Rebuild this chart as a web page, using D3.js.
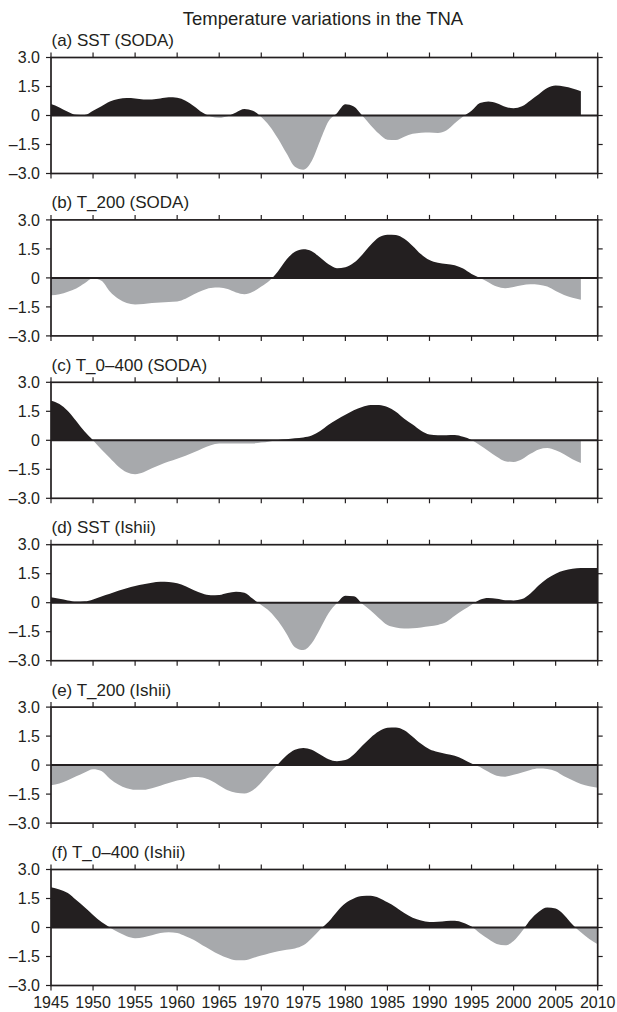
<!DOCTYPE html>
<html>
<head>
<meta charset="utf-8">
<script src="https://d3js.org/d3.v7.min.js"></script>
<style>
body {
  margin: 0;
  background: #fff;
}
svg text {
  font-family: "Liberation Sans", Arial, sans-serif;
  fill: #231f20;
}
.frame {
  fill: none;
  stroke: #231f20;
  stroke-width: 1.7;
}
.tick {
  stroke: #231f20;
  stroke-width: 1.2;
}
.zero {
  stroke: #231f20;
  stroke-width: 2;
}
</style>
</head>
<body>
<div id="plot"></div>
<script>

var chartTitle = "Temperature variations in the TNA";
var panelLabels = ["(a) SST (SODA)", "(b) T_200 (SODA)", "(c) T_0\u2013400 (SODA)",
                   "(d) SST (Ishii)", "(e) T_200 (Ishii)", "(f) T_0\u2013400 (Ishii)"];

var yTicks = [3, 1.5, 0, -1.5, -3];
var yTickLabels = ["3.0", "1.5", "0", "\u20131.5", "\u20133.0"];
var xTicks = [1945, 1950, 1955, 1960, 1965, 1970, 1975, 1980, 1985, 1990, 1995, 2000, 2005, 2010];

// yearly values, SODA series stop in 2008, Ishii go to 2010
var sstSoda = [0.59, 0.42, 0.2, 0.04, 0.03, 0.25, 0.48, 0.72, 0.85, 0.9,
  0.88, 0.83, 0.83, 0.88, 0.94, 0.92, 0.76, 0.48, 0.15, -0.05,
  -0.12, -0.04, 0.16, 0.33, 0.25, -0.08, -0.55, -1.2, -1.95, -2.65,
  -2.8, -2.35, -1.3, -0.3, 0.12, 0.58, 0.47, 0.0, -0.5, -0.95,
  -1.25, -1.27, -1.1, -0.95, -0.89, -0.88, -0.91, -0.78, -0.4, -0.05,
  0.25, 0.65, 0.73, 0.64, 0.45, 0.38, 0.48, 0.78, 1.1, 1.42,
  1.55, 1.5, 1.4, 1.25];

var t200Soda = [-0.9, -0.85, -0.72, -0.55, -0.28, -0.02, -0.15, -0.7, -1.08, -1.3,
  -1.37, -1.35, -1.3, -1.27, -1.25, -1.22, -1.08, -0.85, -0.65, -0.52,
  -0.5, -0.58, -0.75, -0.84, -0.72, -0.45, -0.14, 0.35, 0.95, 1.35,
  1.48, 1.38, 1.05, 0.7, 0.5, 0.55, 0.78, 1.2, 1.7, 2.1,
  2.23, 2.22, 2.02, 1.65, 1.22, 0.92, 0.78, 0.72, 0.65, 0.48,
  0.2, 0.0, -0.22, -0.45, -0.53, -0.47, -0.38, -0.33, -0.35, -0.45,
  -0.68, -0.88, -1.03, -1.13];

var t400Soda = [2.05, 1.88, 1.52, 1.0, 0.45, 0.0, -0.48, -0.92, -1.35, -1.65,
  -1.75, -1.65, -1.45, -1.27, -1.1, -0.95, -0.8, -0.62, -0.42, -0.25,
  -0.17, -0.16, -0.17, -0.17, -0.16, -0.12, -0.06, 0.02, 0.05, 0.1,
  0.15, 0.25, 0.48, 0.8, 1.08, 1.32, 1.55, 1.72, 1.82, 1.83,
  1.72, 1.48, 1.12, 0.82, 0.5, 0.3, 0.26, 0.26, 0.27, 0.18,
  0.02, -0.25, -0.55, -0.85, -1.08, -1.12, -0.98, -0.7, -0.47, -0.4,
  -0.52, -0.72, -0.98, -1.17];

var sstIshii = [0.28, 0.2, 0.12, 0.06, 0.07, 0.17, 0.32, 0.46, 0.62, 0.75,
  0.87, 0.95, 1.03, 1.08, 1.07, 1.0, 0.85, 0.65, 0.48, 0.39,
  0.4, 0.5, 0.56, 0.52, 0.2, -0.12, -0.45, -0.95, -1.6, -2.3,
  -2.45, -2.1, -1.35, -0.55, -0.02, 0.36, 0.33, -0.05, -0.4, -0.8,
  -1.15, -1.28, -1.33, -1.32, -1.28, -1.22, -1.15, -1.0, -0.68, -0.38,
  -0.1, 0.15, 0.24, 0.21, 0.13, 0.12, 0.19, 0.48, 0.9, 1.25,
  1.5, 1.66, 1.75, 1.79, 1.8, 1.79];

var t200Ishii = [-1.04, -0.95, -0.78, -0.58, -0.38, -0.21, -0.3, -0.7, -1.0, -1.2,
  -1.28, -1.28, -1.2, -1.07, -0.93, -0.8, -0.7, -0.62, -0.64, -0.8,
  -1.05, -1.3, -1.43, -1.47, -1.3, -0.9, -0.4, 0.05, 0.5, 0.8,
  0.88, 0.8, 0.55, 0.3, 0.2, 0.26, 0.55, 1.0, 1.42, 1.75,
  1.93, 1.95, 1.8, 1.47, 1.1, 0.82, 0.68, 0.58, 0.48, 0.3,
  0.08, -0.1, -0.35, -0.55, -0.6, -0.5, -0.38, -0.25, -0.18, -0.2,
  -0.32, -0.58, -0.78, -0.98, -1.1, -1.17];

var t400Ishii = [2.08, 1.97, 1.78, 1.42, 1.05, 0.65, 0.28, 0.0, -0.25, -0.45,
  -0.55, -0.5, -0.4, -0.28, -0.24, -0.28, -0.45, -0.65, -0.92, -1.16,
  -1.4, -1.58, -1.7, -1.7, -1.58, -1.45, -1.33, -1.23, -1.15, -1.08,
  -0.92, -0.55, -0.1, 0.3, 0.82, 1.25, 1.5, 1.63, 1.64, 1.53,
  1.3, 1.05, 0.75, 0.5, 0.36, 0.29, 0.3, 0.34, 0.35, 0.25,
  0.05, -0.3, -0.6, -0.85, -0.92, -0.7, -0.2, 0.4, 0.82, 1.04,
  0.98, 0.65, 0.15, -0.25, -0.6, -0.87];

var firstYear = 1945;
var allSeries = [sstSoda, t200Soda, t400Soda, sstIshii, t200Ishii, t400Ishii];

var width = 617, height = 1012;
var left = 51, right = 597.7;
var panelTop = 57.5, panelStep = 162.4, panelH = 116;
var tickLen = 5;

var svg = d3.select('#plot')
  .append('svg')
  .attr('width', width)
  .attr('height', height);

var x = d3.scaleLinear()
  .domain([1945, 2010])
  .range([left, right]);

svg.append('text')
  .attr('x', 323)
  .attr('y', 25)
  .attr('text-anchor', 'middle')
  .style('font-size', '18.5px')
  .text(chartTitle);

allSeries.forEach(function(values, i){
  var top = panelTop + i * panelStep;
  var y = d3.scaleLinear()
    .domain([-3, 3])
    .range([top + panelH, top]);

  var data = values.map(function(v, j){ return {year: firstYear + j, v: v}; });

  var g = svg.append('g').attr('class', 'panel');

  // clip regions for above / below zero
  var defs = g.append('defs');
  defs.append('clipPath').attr('id', 'pos' + i)
    .append('rect')
    .attr('x', left).attr('y', top)
    .attr('width', right - left).attr('height', y(0) - top);
  defs.append('clipPath').attr('id', 'neg' + i)
    .append('rect')
    .attr('x', left).attr('y', y(0))
    .attr('width', right - left).attr('height', top + panelH - y(0));

  var area = d3.area()
    .curve(d3.curveMonotoneX)
    .x(function(d){ return x(d.year); })
    .y0(y(0))
    .y1(function(d){ return y(d.v); });

  g.append('path')
    .datum(data)
    .attr('clip-path', 'url(#pos' + i + ')')
    .attr('fill', '#231f20')
    .attr('d', area);

  g.append('path')
    .datum(data)
    .attr('clip-path', 'url(#neg' + i + ')')
    .attr('fill', '#a7a9ac')
    .attr('d', area);

  // zero line
  g.append('line')
    .attr('class', 'zero')
    .attr('x1', left).attr('x2', right)
    .attr('y1', y(0)).attr('y2', y(0));

  // frame
  g.append('rect')
    .attr('class', 'frame')
    .attr('x', left).attr('y', top)
    .attr('width', right - left).attr('height', panelH);

  // outward ticks on all four sides
  xTicks.forEach(function(t){
    g.append('line').attr('class', 'tick')
      .attr('x1', x(t)).attr('x2', x(t))
      .attr('y1', top).attr('y2', top - tickLen);
    g.append('line').attr('class', 'tick')
      .attr('x1', x(t)).attr('x2', x(t))
      .attr('y1', top + panelH).attr('y2', top + panelH + tickLen);
  });

  yTicks.forEach(function(t, k){
    g.append('line').attr('class', 'tick')
      .attr('x1', left - tickLen).attr('x2', left)
      .attr('y1', y(t)).attr('y2', y(t));
    g.append('line').attr('class', 'tick')
      .attr('x1', right).attr('x2', right + tickLen)
      .attr('y1', y(t)).attr('y2', y(t));
    g.append('text')
      .attr('x', left - 11)
      .attr('y', y(t) + 5.6)
      .attr('text-anchor', 'end')
      .style('font-size', '16px')
      .text(yTickLabels[k]);
  });

  g.append('text')
    .attr('x', left + 0.5)
    .attr('y', top - 11.5)
    .style('font-size', '17px')
    .text(panelLabels[i]);

  // year labels only under the last panel
  if(i == allSeries.length - 1){
    xTicks.forEach(function(t){
      g.append('text')
        .attr('x', x(t))
        .attr('y', top + panelH + 22)
        .attr('text-anchor', 'middle')
        .style('font-size', '16px')
        .text(t);
    });
  }
});

</script>
</body>
</html>
